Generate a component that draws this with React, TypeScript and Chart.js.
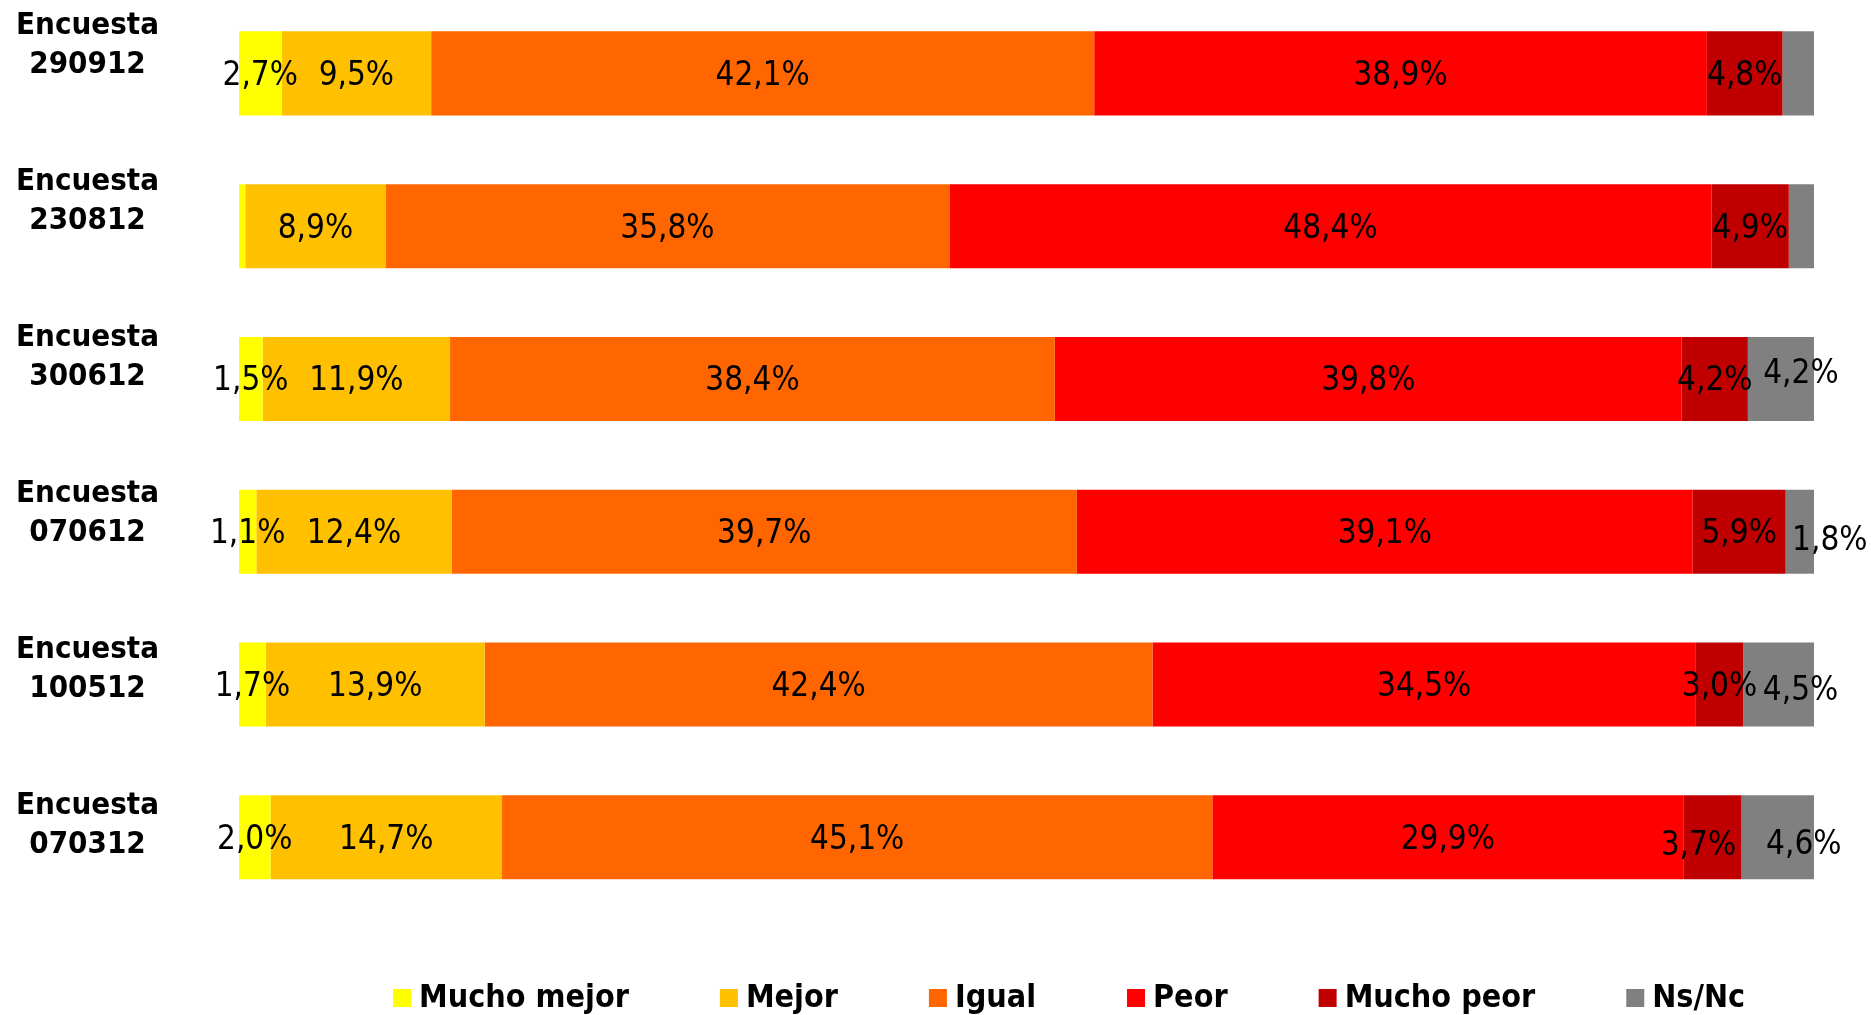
import React, { useEffect, useRef } from 'react';
import { Chart, registerables } from 'chart.js';

Chart.register(...registerables);

// ---- data ----
const surveyCodes = ['290912', '230812', '300612', '070612', '100512', '070312'];
const categories = surveyCodes.map((c) => ['Encuesta', c]);

const seriesNames = ['Mucho mejor', 'Mejor', 'Igual', 'Peor', 'Mucho peor', 'Ns/Nc'];
const muchoMejor = [2.7, 0.4, 1.5, 1.1, 1.7, 2.0];
const mejor = [9.5, 8.9, 11.9, 12.4, 13.9, 14.7];
const igual = [42.1, 35.8, 38.4, 39.7, 42.4, 45.1];
const peor = [38.9, 48.4, 39.8, 39.1, 34.5, 29.9];
const muchoPeor = [4.8, 4.9, 4.2, 5.9, 3.0, 3.7];
const nsNc = [2.0, 1.6, 4.2, 1.8, 4.5, 4.6];

const seriesValues = [muchoMejor, mejor, igual, peor, muchoPeor, nsNc];
const seriesColors = ['#FFFF00', '#FFC000', '#FF6600', '#FF0000', '#C00000', '#808080'];

// labels not shown in the original: [series, row]
const hiddenLabels = [
  [0, 1],
  [5, 0],
  [5, 1],
];
// manual label nudges of the original: [series, row, dx, dy]
const labelNudges = [
  [5, 2, 20, -7],
  [5, 3, 30, 7],
  [5, 4, 22, 4],
  [5, 5, 26, 5],
  [4, 5, -14, 6],
];

const FAMILY = "'DejaVu Sans Condensed', 'DejaVu Sans', sans-serif";

const fmt = (v: number) => v.toFixed(1).replace('.', ',') + '%';

const segmentLabels = {
  id: 'segmentLabels',
  afterDatasetsDraw(chart: any) {
    const ctx = chart.ctx;
    ctx.save();
    ctx.font = `normal 33px ${FAMILY}`;
    ctx.fillStyle = '#000000';
    ctx.textAlign = 'center';
    ctx.textBaseline = 'middle';
    chart.data.datasets.forEach((ds: any, di: number) => {
      const meta = chart.getDatasetMeta(di);
      meta.data.forEach((bar: any, i: number) => {
        if (hiddenLabels.some(([s, r]) => s === di && r === i)) return;
        const p = bar.getProps(['x', 'y', 'base'], true);
        const n = labelNudges.find(([s, r]) => s === di && r === i);
        const dx = n ? n[2] : 0;
        const dy = n ? n[3] : 0;
        ctx.fillText(fmt(ds.data[i]), (p.x + p.base) / 2 + dx, p.y + 3 + dy);
      });
    });
    ctx.restore();
  },
};

const customLegend = {
  id: 'customLegend',
  afterDraw(chart: any) {
    const ctx = chart.ctx;
    ctx.save();
    ctx.font = `bold 32px ${FAMILY}`;
    ctx.textBaseline = 'middle';
    ctx.textAlign = 'left';
    const box = 18;
    const yMid = 1002; // canvas coords (canvas is shifted up by 4px)
    let x = 393;
    chart.data.datasets.forEach((ds: any) => {
      ctx.fillStyle = ds.backgroundColor;
      ctx.fillRect(x, yMid - box / 2, box, box);
      ctx.fillStyle = '#000000';
      const tx = x + box + 8;
      ctx.fillText(ds.label, tx, yMid + 1);
      x = tx + ctx.measureText(ds.label).width + 91;
    });
    ctx.restore();
  },
};

export default function App() {
  const canvasRef = useRef<HTMLCanvasElement | null>(null);

  useEffect(() => {
    if (!canvasRef.current) return;
    const chart = new Chart(canvasRef.current, {
      type: 'bar',
      data: {
        labels: categories.map((c) => c.join(' ')),
        datasets: seriesNames.map((name, k) => ({
          label: name,
          data: seriesValues[k],
          backgroundColor: seriesColors[k],
          borderWidth: 0,
          categoryPercentage: 1,
          barPercentage: 0.55,
        })),
      },
      options: {
        indexAxis: 'y',
        animation: false,
        responsive: false,
        devicePixelRatio: 1,
        layout: { padding: { top: 1, bottom: 101.4, left: 0, right: 57 } },
        plugins: {
          legend: { display: false },
          tooltip: { enabled: false },
          title: { display: false },
        },
        scales: {
          x: { stacked: true, min: 0, max: 100, display: false },
          y: { stacked: true, display: false, offset: true },
          yl: {
            type: 'linear',
            position: 'left',
            reverse: true,
            offset: false,
            bounds: 'data',
            min: -0.308,
            max: 5.568,
            afterBuildTicks: (scale: any) => {
              scale.ticks = categories.map((_, i) => ({ value: i }));
            },
            afterFit: (scale: any) => {
              scale.width = 239;
              scale.paddingTop = 0;
              scale.paddingBottom = 0;
            },
            grid: { display: false, drawTicks: false, offset: false },
            border: { display: false },
            ticks: {
              callback: (v: any) => categories[v as number] ?? '',
              color: '#000000',
              padding: 80,
              crossAlign: 'center',
              autoSkip: false,
              font: { family: FAMILY, size: 31, weight: 'bold', lineHeight: 1.26 },
            },
          },
        },
      } as any,
      plugins: [segmentLabels, customLegend],
    });
    return () => chart.destroy();
  }, []);

  return (
    <div
      style={{
        position: 'absolute',
        left: 0,
        top: 0,
        width: 1871,
        height: 1015,
        overflow: 'hidden',
        background: '#ffffff',
      }}
    >
      <canvas
        ref={canvasRef}
        width={1871}
        height={1019}
        style={{ position: 'absolute', left: 0, top: -4, width: 1871, height: 1019 }}
      />
    </div>
  );
}
